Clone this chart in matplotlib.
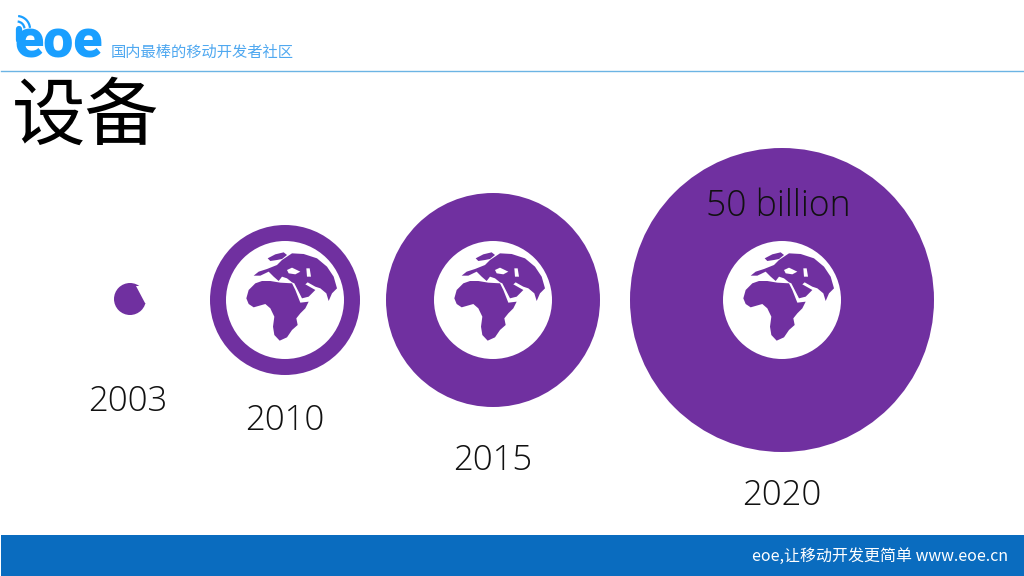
# Devices bubble slide, eoe template.

# Import libraries
import numpy as np
import matplotlib.pyplot as plt
from matplotlib.patches import Circle, Rectangle, Polygon, Arc

# Chart values
years = ["2003", "2010", "2015", "2020"]
radius = [16, 75, 107, 152]
callout = "50 billion"
title = "设备"
slogan = "国内最棒的移动开发者社区"
footer_text = "eoe,让移动开发更简单 www.eoe.cn"

# Layout, in slide pixels
center_x = [130, 285, 493, 782]
center_y = [299, 300, 300, 300]
label_x = [128, 285, 493, 782]
label_y = [402, 421, 461, 496]
globe_radius = 59

# Globe outlines, read from the zoomed icon (3x pixels)
africa = [(28, 55), (35, 30), (55, 10), (75, 3), (100, 3), (130, 8), (165, 10), (175, 30),
          (190, 68), (215, 65), (205, 85), (190, 100), (178, 115), (182, 135), (165, 150),
          (150, 172), (128, 182), (112, 165), (108, 140), (112, 110), (100, 85), (85, 72),
          (50, 82), (35, 72)]
eurasia = [(50, 92), (65, 80), (90, 72), (120, 60), (135, 45), (165, 25), (200, 27), (240, 40),
           (270, 65), (290, 95), (300, 130), (285, 145), (275, 168), (268, 145), (250, 130),
           (235, 125), (212, 112), (205, 118), (235, 135), (215, 155), (195, 160), (172, 115),
           (165, 112), (150, 100), (135, 95), (125, 108), (110, 95), (95, 80), (70, 92)]
scandinavia = [(92, 40), (115, 28), (140, 22), (150, 30), (135, 42), (120, 45), (100, 48)]
black_sea = [(150, 75), (165, 68), (190, 80), (175, 88), (155, 85)]
caspian = [(208, 70), (218, 70), (222, 95), (210, 95)]

purple = "#7030A0"
blue = "#0A6CBF"
logo_blue = "#1A9FFF"

fig = plt.figure(figsize = (10.24, 5.76), dpi = 100)
ax = fig.add_axes([0, 0, 1, 1])
ax.set_xlim(0, 1024)
ax.set_ylim(576, 0)
ax.axis("off")

label_font = {"family": "Open Sans", "fontweight": "light", "color": "#111111"}

# Header
ax.text(14, 58, "eoe", family = "Roboto", fontweight = "black", fontsize = 38.5, color = logo_blue, va = "baseline")
ax.plot([18.5, 18.5], [29, 40], color = logo_blue, lw = 4.5, solid_capstyle = "round")
ax.add_patch(Arc((17, 29), 26, 26, theta1 = 275, theta2 = 355, color = logo_blue, lw = 1.6))
ax.add_patch(Arc((17, 29), 15, 15, theta1 = 275, theta2 = 355, color = logo_blue, lw = 1.6))
ax.text(111, 52, slogan, family = "Noto Sans CJK SC", fontweight = "light", fontsize = 11, color = "#4FA8F0", va = "center")
ax.plot([1, 1024], [71, 71], color = "#6CB4E4", lw = 1)
ax.text(12, 118, title, family = "Noto Sans CJK SC", fontsize = 53, color = "black", va = "center")

# Bubbles
for i in range(len(years)):
    x = center_x[i]
    y = center_y[i]
    ax.add_patch(Circle((x, y), radius[i], color = purple, lw = 0))
    ax.text(label_x[i], label_y[i], years[i], fontsize = 25, ha = "center", va = "center", **label_font)
    if radius[i] < globe_radius:
        # Smallest bubble is cropped by the white globe edge
        chip = [(x + 6, y - 13), (x + 15, y + 4), (x + 18, y + 4), (x + 18, y - 13)]
        ax.add_patch(Polygon(chip, color = "white", lw = 0))
        continue
    ax.add_patch(Circle((x, y), globe_radius, color = "white", lw = 0))
    # Africa crop starts at (-48, -20), the northern crop at (-48, -55)
    ax.add_patch(Polygon(np.array(africa) / 3 + [x - 48, y - 20], color = purple, lw = 0))
    ax.add_patch(Polygon(np.array(eurasia) / 3 + [x - 48, y - 55], color = purple, lw = 0))
    ax.add_patch(Polygon(np.array(scandinavia) / 3 + [x - 48, y - 55], color = purple, lw = 0))
    ax.add_patch(Polygon(np.array(black_sea) / 3 + [x - 48, y - 55], color = "white", lw = 0))
    ax.add_patch(Polygon(np.array(caspian) / 3 + [x - 48, y - 55], color = "white", lw = 0))

ax.text(778, 207, callout, fontsize = 25.6, ha = "center", va = "center", **label_font)

# Footer
ax.add_patch(Rectangle((1, 535), 1023, 41, color = blue, lw = 0))
ax.text(1008, 556, footer_text, family = ["Noto Sans CJK SC", "DejaVu Sans"], fontweight = "light",
        fontsize = 11.5, color = "white", ha = "right", va = "center")

fig.savefig("out.png", dpi = 100)
